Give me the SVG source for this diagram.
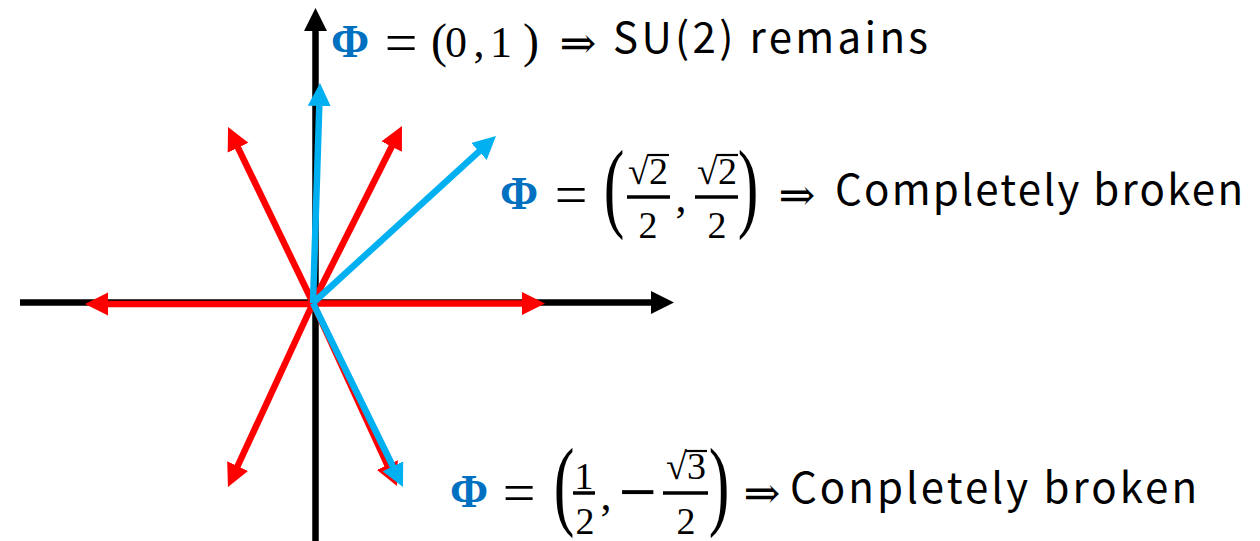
<svg xmlns="http://www.w3.org/2000/svg" width="1260" height="541" viewBox="0 0 1260 541">
<defs>
<style>
.ax{stroke:#000;stroke-width:6.5;fill:none}
.r{stroke:#FF0000;stroke-width:6.5;fill:none;marker-end:url(#ahR)}
.b{stroke:#00B0F0;stroke-width:6.5;fill:none;marker-end:url(#ahB)}
.m{font-family:"Liberation Serif","DejaVu Serif",serif;font-size:44px;fill:#000;text-anchor:middle}
.eq{font-family:"Liberation Serif","DejaVu Serif",serif;font-size:58px;fill:#000;text-anchor:middle}
.op{font-family:"DejaVu Serif",serif;font-size:44px;fill:#000;text-anchor:middle}
.fr{font-family:"Liberation Serif","DejaVu Serif",serif;font-size:38px;fill:#000;text-anchor:middle}
.phi{font-family:"Liberation Serif","DejaVu Serif",serif;font-size:46px;font-weight:bold;fill:#0070C0;text-anchor:middle}
.t{font-family:"Noto Sans CJK JP","Liberation Sans",sans-serif;font-size:42px;fill:#000}
.bar{stroke:#000;stroke-width:3.5}
.vin{stroke:#000;stroke-width:2.2}
</style>
<marker id="ahK" viewBox="0 -12 24 24" refX="1" refY="0" markerWidth="24" markerHeight="24" markerUnits="userSpaceOnUse" orient="auto"><path d="M0,-11.5 L23,0 L0,11.5 z" fill="#000"/></marker>
<marker id="ahR" viewBox="0 -12 24 24" refX="1" refY="0" markerWidth="24" markerHeight="24" markerUnits="userSpaceOnUse" orient="auto"><path d="M0,-11.5 L23,0 L0,11.5 z" fill="#FF0000"/></marker>
<marker id="ahB" viewBox="0 -12 24 24" refX="1" refY="0" markerWidth="24" markerHeight="24" markerUnits="userSpaceOnUse" orient="auto"><path d="M0,-11.5 L23,0 L0,11.5 z" fill="#00B0F0"/></marker>
</defs>
<rect width="1260" height="541" fill="#fff"/>
<g id="connectors">
<line id="x-axis" class="ax" x1="20" y1="302.5" x2="652" y2="302.5" marker-end="url(#ahK)"/>
<line id="y-axis" class="ax" x1="315.5" y1="541" x2="315.5" y2="30" marker-end="url(#ahK)"/>
<line class="r" x1="313" y1="303.5" x2="523" y2="303.5"/>
<line class="r" x1="313" y1="304" x2="107" y2="304"/>
<line class="r" x1="313" y1="303" x2="237.6" y2="146.8"/>
<line class="r" x1="313" y1="303" x2="392.1" y2="145.7"/>
<line class="r" x1="313" y1="303" x2="237.2" y2="467.0"/>
<line class="r" x1="313" y1="303" x2="387.8" y2="466.0"/>
<line class="b" x1="313" y1="303" x2="319.3" y2="105.0"/>
<line class="b" x1="313" y1="303" x2="479.7" y2="150.8"/>
<line class="b" x1="313" y1="303" x2="393.3" y2="467.2"/>
</g>
<g id="label-top">
<text class="phi" x="350" y="57">Φ</text>
<text class="eq" x="401" y="62">=</text>
<text class="m" x="439" y="57" style="font-size:48px">(</text>
<text class="m" x="456" y="57">0</text>
<text class="m" x="479" y="57">,</text>
<text class="m" x="501" y="57">1</text>
<text class="m" x="531" y="57" style="font-size:48px">)</text>
<text class="op" x="578" y="58">⇒</text>
<text class="t" x="613" y="53" textLength="315" lengthAdjust="spacing">SU(2) remains</text>
</g>
<g id="label-middle">
<text class="phi" x="519" y="209">Φ</text>
<text class="eq" x="571" y="214">=</text>
<text class="m" transform="translate(614,219) scale(0.62,1)" style="font-size:100px">(</text>
<text class="fr" x="648" y="184">√2</text>
<line class="vin" x1="648" y1="155" x2="669" y2="155"/>
<line class="bar" x1="627" y1="197" x2="670" y2="197"/>
<text class="fr" x="648" y="238">2</text>
<text class="m" x="681" y="212">,</text>
<text class="fr" x="717" y="184">√2</text>
<line class="vin" x1="717" y1="155" x2="738" y2="155"/>
<line class="bar" x1="695" y1="197" x2="738" y2="197"/>
<text class="fr" x="717" y="238">2</text>
<text class="m" transform="translate(748,219) scale(0.62,1)" style="font-size:100px">)</text>
<text class="op" x="797" y="210">⇒</text>
<text class="t" x="835" y="205" textLength="408" lengthAdjust="spacing">Completely broken</text>
</g>
<g id="label-bottom">
<text class="phi" x="469" y="507">Φ</text>
<text class="eq" x="519" y="512">=</text>
<text class="m" transform="translate(564,517) scale(0.62,1)" style="font-size:100px">(</text>
<text class="fr" x="584" y="489">1</text>
<line class="bar" x1="573" y1="493" x2="595" y2="493"/>
<text class="fr" x="585" y="534">2</text>
<text class="m" x="606" y="510">,</text>
<text class="op" x="638" y="508" style="font-size:50px">−</text>
<text class="fr" x="686" y="479">√3</text>
<line class="vin" x1="686" y1="451" x2="707" y2="451"/>
<line class="bar" x1="663" y1="493" x2="708" y2="493"/>
<text class="fr" x="686" y="534">2</text>
<text class="m" transform="translate(719,517) scale(0.62,1)" style="font-size:100px">)</text>
<text class="op" x="762" y="508">⇒</text>
<text class="t" x="790" y="503" textLength="407" lengthAdjust="spacing">Conpletely broken</text>
</g>
</svg>
